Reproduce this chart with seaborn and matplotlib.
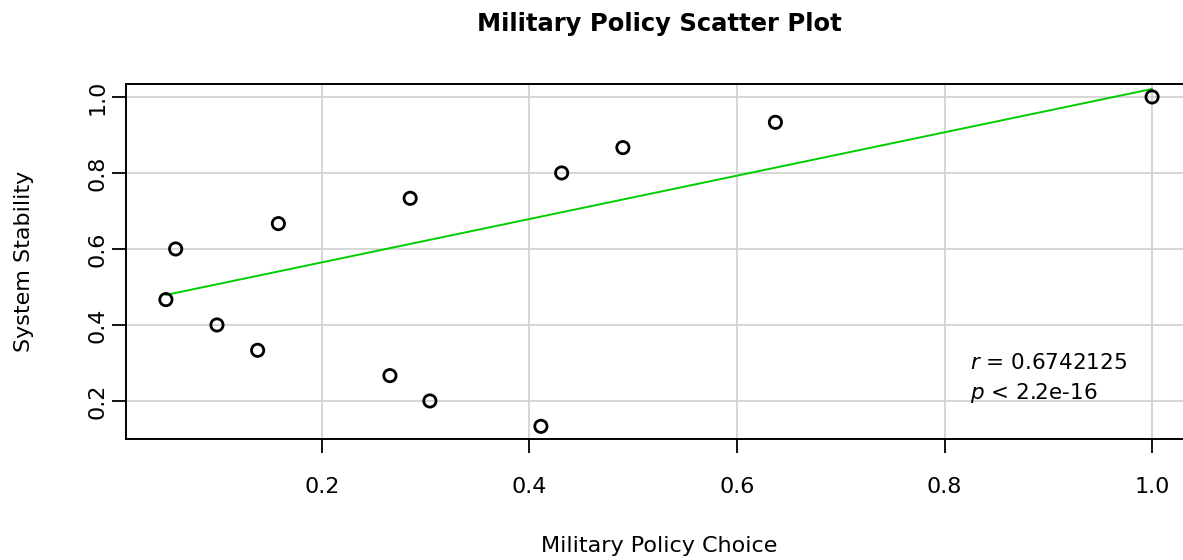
import numpy as np
import pandas as pd
import matplotlib
matplotlib.use("Agg")
import matplotlib.pyplot as plt
import seaborn as sns

# values
policy_choice = [0.0496, 0.059, 0.0988, 0.138, 0.158, 0.2655, 0.285, 0.304,
                 0.411, 0.431, 0.490, 0.637, 1.0]
stability = [0.4667, 0.6, 0.4, 0.3333, 0.6667, 0.2667, 0.7333, 0.2,
             0.1333, 0.8, 0.8667, 0.9333, 1.0]
# fitted line shown in the reference (intercept, slope)
fit_intercept = 0.4507
fit_slope = 0.5703
r_text = "0.6742125"
p_text = "2.2e-16"
x_ticks = [0.2, 0.4, 0.6, 0.8, 1.0]
y_ticks = [0.2, 0.4, 0.6, 0.8, 1.0]

df = pd.DataFrame({"x": policy_choice, "y": stability})

sns.set_style("white")
plt.rcParams["font.family"] = ["DejaVu Sans"]
plt.rcParams["mathtext.fontset"] = "dejavusans"
plt.rcParams["text.color"] = "black"
plt.rcParams["axes.labelcolor"] = "black"
plt.rcParams["xtick.color"] = "black"
plt.rcParams["ytick.color"] = "black"

fig = plt.figure(figsize=(11.83, 5.6), dpi=100)
ax = fig.add_axes([0.1069, 0.2152, 0.9003, 0.6352])

# R-style 4% padding
xr = max(policy_choice) - min(policy_choice)
yr = max(stability) - min(stability)
ax.set_xlim(min(policy_choice) - 0.04 * xr, max(policy_choice) + 0.04 * xr)
ax.set_ylim(min(stability) - 0.04 * yr, max(stability) + 0.04 * yr)

for v in x_ticks:
    ax.axvline(v, color="#d3d3d3", lw=1.3, zorder=0)
for v in y_ticks:
    ax.axhline(v, color="#d3d3d3", lw=1.3, zorder=0)

line_x = np.array([min(policy_choice), max(policy_choice)])
line_df = pd.DataFrame({"x": line_x, "y": fit_intercept + fit_slope * line_x})
sns.lineplot(data=line_df, x="x", y="y", ax=ax, color="#00CD00", lw=1.4, zorder=2)

sns.scatterplot(data=df, x="x", y="y", ax=ax, s=78, facecolor="none",
                edgecolor="black", linewidth=2.0, zorder=3)

ax.set_xticks(x_ticks)
ax.set_xticklabels(["0.2", "0.4", "0.6", "0.8", "1.0"])
ax.set_yticks(y_ticks)
ax.set_yticklabels(["0.2", "0.4", "0.6", "0.8", "1.0"], rotation=90, va="center")
ax.tick_params(axis="both", direction="out", length=10, width=1.3,
               labelsize=16, left=True, bottom=True)
ax.tick_params(axis="x", pad=17)
ax.tick_params(axis="y", pad=3.5)

for side in ["left", "bottom", "top"]:
    ax.spines[side].set_color("black")
    ax.spines[side].set_linewidth(1.4)
ax.spines["right"].set_visible(False)

ax.set_xlabel("Military Policy Choice", fontsize=16, labelpad=28)
ax.set_ylabel("System Stability", fontsize=16, labelpad=39)
ax.set_title("Military Policy Scatter Plot", fontsize=17.5, fontweight="bold", pad=38)

ax.text(0.825, 0.30, "$\\it{r}$ = " + r_text, fontsize=15.5, va="center", ha="left")
ax.text(0.825, 0.22, "$\\it{p}$ < " + p_text, fontsize=15.5, va="center", ha="left")

fig.savefig("out.png", dpi=100)
